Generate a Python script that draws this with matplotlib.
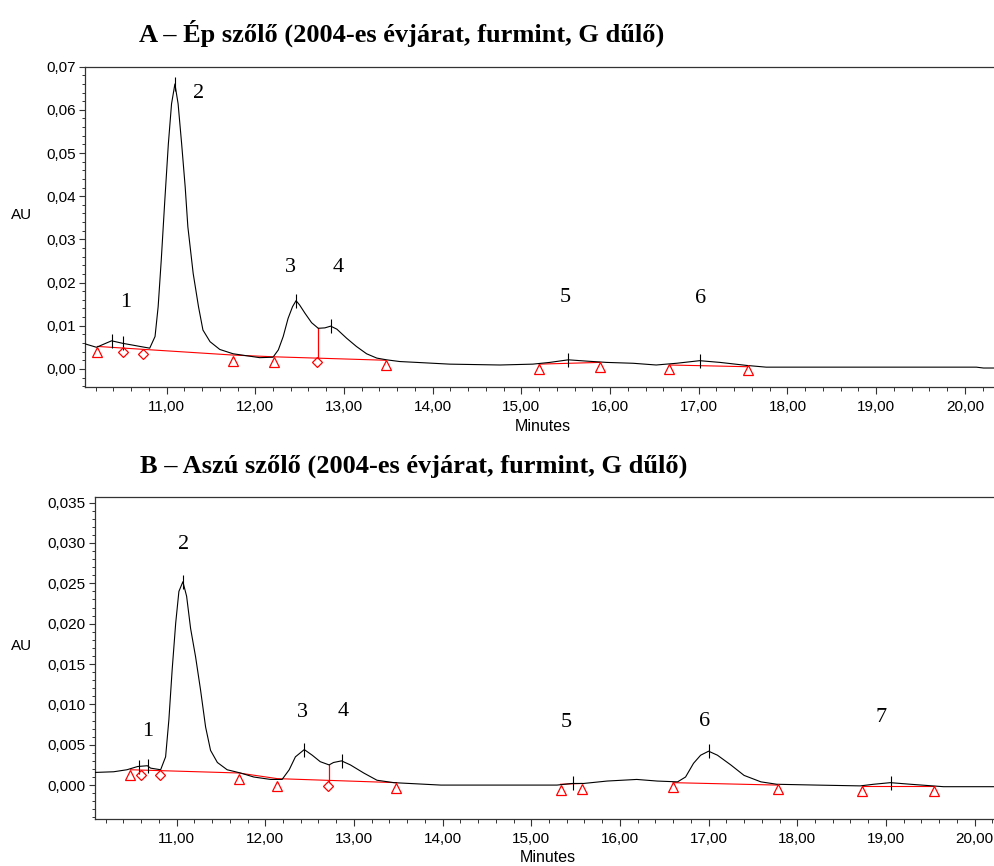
import matplotlib.pyplot as plt
from matplotlib.ticker import FuncFormatter, MultipleLocator

# panel A - trace (minutes, AU)
a_time = [10.08, 10.21, 10.30, 10.38, 10.51, 10.62, 10.70, 10.81, 10.87, 10.905,
          10.94, 10.98, 11.02, 11.056, 11.094, 11.13, 11.17, 11.21, 11.24, 11.30,
          11.36, 11.41, 11.49, 11.60, 11.75, 12.05, 12.20, 12.26, 12.315, 12.37,
          12.42, 12.46, 12.50, 12.56, 12.635, 12.71, 12.785, 12.85, 12.92, 13.03,
          13.14, 13.255, 13.37, 13.48, 13.63, 13.82, 14.19, 14.76, 15.13, 15.32,
          15.53, 15.735, 15.96, 16.26, 16.52, 16.75, 17.01, 17.24, 17.54, 17.76,
          18.89, 20.13, 20.21, 20.34]
a_au = [0.0058, 0.0050, 0.0058, 0.0065, 0.0059, 0.0055, 0.0052, 0.0048, 0.0075, 0.0144,
        0.0252, 0.0390, 0.0521, 0.0614, 0.0660, 0.0614, 0.0521, 0.0421, 0.0329, 0.0221,
        0.0144, 0.0090, 0.0063, 0.0045, 0.0035, 0.0026, 0.0027, 0.0044, 0.0075, 0.0117,
        0.0144, 0.0158, 0.0148, 0.0129, 0.0107, 0.0094, 0.0095, 0.0099, 0.0092, 0.0071,
        0.0052, 0.0035, 0.0025, 0.0021, 0.0017, 0.0015, 0.0011, 0.0009, 0.0011, 0.0015,
        0.0021, 0.0018, 0.0015, 0.0013, 0.0009, 0.0013, 0.0019, 0.0015, 0.0008, 0.0004,
        0.0004, 0.0004, 0.0002, 0.0002]
a_apex_t = [10.38, 10.51, 11.094, 12.46, 12.85, 15.53, 17.01]
a_apex_y = [0.0065, 0.0059, 0.0660, 0.0158, 0.0099, 0.0021, 0.0019]
a_tri_t = [10.22, 11.75, 12.21, 13.47, 15.20, 15.885, 16.67, 17.55]
a_tri_y = [0.0040, 0.0019, 0.0017, 0.0008, 0.0000, 0.0004, -0.0001, -0.0002]
a_dia_t = [10.51, 10.73, 12.70]
a_dia_y = [0.0038, 0.0034, 0.0015]
a_base = [([10.22, 11.75, 12.21, 13.47], [0.0052, 0.0032, 0.0028, 0.0020]),
          ([15.20, 15.885], [0.0011, 0.0015]),
          ([16.67, 17.55], [0.0009, 0.0005])]
a_drop = (12.71, 0.0025, 0.0094)
a_num_t = [10.54, 11.36, 12.40, 12.94, 15.50, 17.02]
a_num_y = [0.0153, 0.0637, 0.0234, 0.0234, 0.0165, 0.0162]
a_num = ["1", "2", "3", "4", "5", "6"]

# panel B
b_time = [10.085, 10.29, 10.44, 10.56, 10.67, 10.707, 10.82, 10.876, 10.913, 10.95,
          10.99, 11.026, 11.071, 11.113, 11.158, 11.214, 11.27, 11.327, 11.383, 11.46,
          11.57, 11.72, 11.87, 12.06, 12.19, 12.27, 12.34, 12.44, 12.53, 12.62,
          12.72, 12.77, 12.86, 12.96, 13.11, 13.26, 13.45, 13.98, 14.65, 15.29,
          15.46, 15.59, 15.855, 16.19, 16.42, 16.65, 16.74, 16.83, 16.91, 17.00,
          17.10, 17.25, 17.40, 17.59, 17.77, 18.22, 18.71, 18.86, 19.05, 19.28,
          19.65, 20.23]
b_au = [0.00157, 0.00165, 0.0019, 0.0023, 0.0024, 0.0021, 0.0019, 0.0035, 0.0081, 0.0143,
        0.0201, 0.0240, 0.0252, 0.0234, 0.0194, 0.0159, 0.0118, 0.0072, 0.0043, 0.0028,
        0.0019, 0.0015, 0.0010, 0.0007, 0.0007, 0.0019, 0.0035, 0.0044, 0.0037, 0.0029,
        0.0025, 0.0028, 0.0030, 0.0025, 0.0015, 0.0006, 0.0003, 0.0000, 0.0000, 0.0000,
        0.0002, 0.0002, 0.0005, 0.0007, 0.0005, 0.0004, 0.0010, 0.0027, 0.0037, 0.0042,
        0.0037, 0.0025, 0.0012, 0.0004, 0.0001, 0.0000, -0.0001, 0.0001, 0.0003, 0.0001,
        -0.0002, -0.0002]
b_apex_t = [10.58, 10.68, 11.071, 12.44, 12.86, 15.47, 17.00, 19.06]
b_apex_y = [0.0023, 0.0024, 0.0252, 0.0044, 0.0030, 0.0002, 0.0042, 0.0003]
b_tri_t = [10.48, 11.70, 12.135, 13.48, 15.33, 15.57, 16.60, 17.78, 18.73, 19.54]
b_tri_y = [0.0013, 0.0007, -0.0001, -0.0004, -0.0006, -0.0005, -0.0002, -0.0005, -0.0007, -0.0007]
b_dia_t = [10.60, 10.81, 12.71]
b_dia_y = [0.0012, 0.0012, -0.0001]
b_base = [([10.48, 11.70, 12.135, 13.48], [0.0019, 0.0015, 0.0008, 0.0003]),
          ([15.33, 15.57], [0.0001, 0.0002]),
          ([16.60, 17.78], [0.0003, 0.0000]),
          ([18.73, 19.54], [-0.0001, -0.0001])]
b_drop = (12.72, 0.0004, 0.0025)
b_num_t = [10.67, 11.08, 12.42, 12.88, 15.39, 16.96, 18.94]
b_num_y = [0.0067, 0.0298, 0.0090, 0.0091, 0.0077, 0.0079, 0.0084]
b_num = ["1", "2", "3", "4", "5", "6", "7"]

plt.rcParams["font.family"] = ["Liberation Sans", "DejaVu Sans"]

fig = plt.figure(figsize=(9.95, 8.66), dpi=100)


def comma(decimals):
    return FuncFormatter(lambda v, pos: f"{v:.{decimals}f}".replace(".", ","))


def draw_panel(ax, t, y, apex_t, apex_y, tri_t, tri_y, dia_t, dia_y, base, drop,
               num_t, num_y, nums, ylim, ystep, yminor, ydec, xlim):
    ax.plot(t, y, color="black", lw=0.8, zorder=3)
    for bx, by in base:
        ax.plot(bx, by, color="red", lw=0.8, zorder=2)
    ax.plot([drop[0], drop[0]], [drop[1], drop[2]], color="red", lw=0.9, zorder=2)
    ax.plot(apex_t, apex_y, ls="none", marker="|", ms=10, mew=0.8, color="black", zorder=4)
    ax.plot(tri_t, tri_y, ls="none", marker="^", ms=7, mfc="none", mec="red", mew=0.9, zorder=4)
    ax.plot(dia_t, dia_y, ls="none", marker="D", ms=5.5, mfc="none", mec="red", mew=0.9, zorder=4)
    for nt, ny, s in zip(num_t, num_y, nums):
        ax.text(nt, ny, s, ha="center", va="center", fontsize=16,
                family="Liberation Serif", color="black")

    ax.set_xlim(*xlim)
    ax.set_ylim(*ylim)
    ax.xaxis.set_major_locator(MultipleLocator(1))
    ax.xaxis.set_minor_locator(MultipleLocator(0.2))
    ax.yaxis.set_major_locator(MultipleLocator(ystep))
    ax.yaxis.set_minor_locator(MultipleLocator(yminor))
    ax.xaxis.set_major_formatter(comma(2))
    ax.yaxis.set_major_formatter(comma(ydec))
    ax.tick_params(which="both", labelsize=11, color="#333333")
    ax.tick_params(axis="x", which="major", length=5, width=0.8, pad=4.5)
    ax.tick_params(axis="x", which="minor", length=3, width=0.7)
    ax.tick_params(axis="y", which="major", length=4, width=0.8, pad=2.5)
    ax.tick_params(axis="y", which="minor", length=2.5, width=0.7)
    ax.spines["right"].set_visible(False)
    for side in ["left", "top", "bottom"]:
        ax.spines[side].set_color("#333333")
        ax.spines[side].set_linewidth(0.9)


ax_a = fig.add_axes([0.0854, 0.5531, 0.9146, 0.3699])
draw_panel(ax_a, a_time, a_au, a_apex_t, a_apex_y, a_tri_t, a_tri_y, a_dia_t, a_dia_y,
           a_base, a_drop, a_num_t, a_num_y, a_num,
           (-0.0042, 0.07), 0.01, 0.002, 2, (10.08, 20.34))

ax_b = fig.add_axes([0.0955, 0.0543, 0.9045, 0.3718])
draw_panel(ax_b, b_time, b_au, b_apex_t, b_apex_y, b_tri_t, b_tri_y, b_dia_t, b_dia_y,
           b_base, b_drop, b_num_t, b_num_y, b_num,
           (-0.0042, 0.0357), 0.005, 0.001, 3, (10.08, 20.23))

# axis titles placed as in the original export
fig.text(22 / 995, 1 - 215 / 866, "AU", ha="center", va="center", fontsize=11)
fig.text(22 / 995, 1 - 646 / 866, "AU", ha="center", va="center", fontsize=11)
fig.text(543 / 995, 1 - 426 / 866, "Minutes", ha="center", va="center", fontsize=11.5)
fig.text(548 / 995, 1 - 858 / 866, "Minutes", ha="center", va="center", fontsize=11.5)

fig.text(402 / 995, 1 - 33 / 866, "A – Ép szőlő (2004-es évjárat, furmint, G dűlő)",
         ha="center", va="center", fontsize=19, fontweight="bold", family="Liberation Serif")
fig.text(414 / 995, 1 - 466 / 866, "B – Aszú szőlő (2004-es évjárat, furmint, G dűlő)",
         ha="center", va="center", fontsize=19, fontweight="bold", family="Liberation Serif")

fig.savefig("out.png", dpi=100)
